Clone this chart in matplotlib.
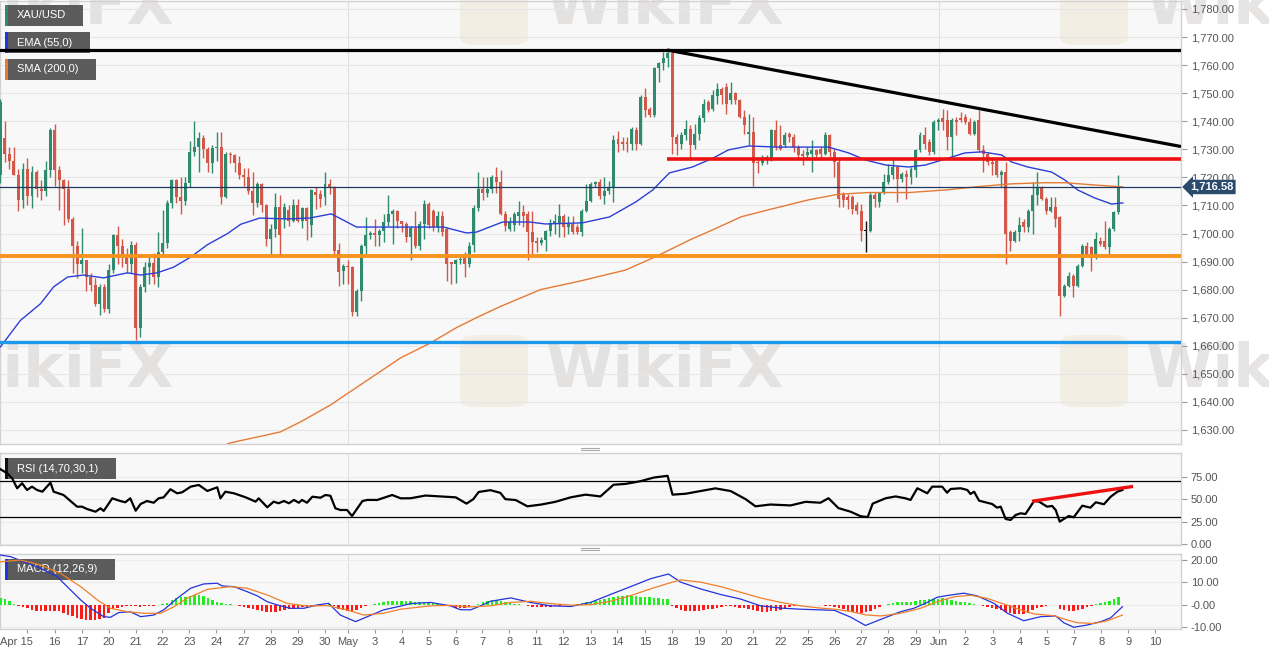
import numpy as np
import matplotlib.pyplot as plt
from matplotlib.patches import Rectangle, FancyBboxPatch
from matplotlib.lines import Line2D
from matplotlib.transforms import ScaledTranslation
from matplotlib.ticker import FuncFormatter

plt.rcParams['font.family'] = ['Liberation Sans', 'DejaVu Sans']

# ---------------- XAU/USD 4h candles ----------------
opens = [1721, 1734, 1728.5, 1726, 1721, 1712, 1723, 1713.5, 1722, 1716,
         1715, 1722.5, 1737, 1722.5, 1719, 1716, 1705, 1695.5, 1689, 1690.5,
         1684.5, 1681.5, 1675, 1681, 1673, 1687, 1699.5, 1695.5, 1692, 1689,
         1696, 1666.5, 1681, 1688, 1689.5, 1684.5, 1693.5, 1696.5, 1711, 1719,
         1713, 1711.5, 1718, 1729, 1731, 1734, 1730, 1725, 1730.5, 1731,
         1713, 1728.5, 1728, 1725, 1721, 1720, 1715, 1711, 1717.7, 1710,
         1698, 1701.7, 1709.4, 1705, 1708.5, 1704.6, 1710, 1704.6, 1709, 1702.9,
         1714.8, 1714, 1713, 1717.7, 1716.5, 1694, 1686.8, 1688.6, 1688, 1671.9,
         1679.6, 1695.7, 1699.3, 1700.1, 1699.3, 1700.8, 1704, 1707, 1708.2, 1704.4,
         1703.5, 1698.9, 1702, 1695.7, 1703.5, 1710.6, 1708, 1702.3, 1706.4, 1701.7,
         1689.8, 1689.2, 1690.4, 1692.2, 1689.2, 1696, 1709, 1716, 1714.3, 1716,
         1720.2, 1718.4, 1707, 1701.7, 1702.9, 1706.4, 1707.6, 1707, 1700.5, 1697.5,
         1696.6, 1697.8, 1700.8, 1703.8, 1703.8, 1706.4, 1702.3, 1703.5, 1702.3, 1700.5,
         1708.2, 1711.7, 1717.7, 1718.2, 1713.5, 1715.3, 1716.5, 1733.8, 1732.6, 1732.6,
         1732, 1736.8, 1732, 1748.7, 1744.5, 1742.2, 1758.8, 1760.6, 1762.4, 1764.2,
         1734.4, 1732, 1735, 1737.4, 1731.4, 1735.6, 1741, 1747, 1744.5, 1748.9,
         1751.4, 1752.2, 1747.5, 1750, 1747.5, 1741.5, 1735.6, 1736.2, 1725.6, 1725,
         1727, 1727, 1736.8, 1731.4, 1731.4, 1735.6, 1734.4, 1730.8, 1728.5, 1727.9,
         1728.5, 1729.6, 1730.2, 1728.5, 1735, 1729, 1725.5, 1714.2, 1713, 1713,
         1710, 1708.2, 1701, 1701, 1713.6, 1711.2, 1714.8, 1718.3, 1720.7, 1723.7,
         1719.5, 1721.3, 1720.2, 1722.5, 1729.6, 1735, 1732.6, 1729, 1739.8, 1741,
         1740.4, 1734.4, 1740.6, 1741, 1741.5, 1739.8, 1735.6, 1740.4, 1729.6, 1728.5,
         1725.5, 1726, 1720.7, 1721.9, 1700.5, 1697.5, 1700.5, 1704, 1702.3, 1708.2,
         1713.6, 1716.5, 1712.4, 1708.2, 1709.4, 1705.8, 1677.9, 1681.4, 1685, 1681.4,
         1688.6, 1695.7, 1695.1, 1691.6, 1697.5, 1697.5, 1695.1, 1701.7, 1707.6]
highs = [1748, 1740, 1731, 1731, 1723, 1725, 1727, 1724, 1722.5, 1719,
         1726, 1737.5, 1739, 1724, 1719.5, 1719, 1706, 1697.5, 1702, 1690.5,
         1686, 1684, 1682, 1682, 1689, 1700, 1702.5, 1698, 1695, 1697.5,
         1697, 1682, 1690, 1692, 1693, 1700.5, 1708.5, 1712, 1719.5, 1719.5,
         1720, 1720, 1733, 1740, 1736, 1735, 1731, 1731.5, 1736, 1736,
         1729, 1729, 1728.5, 1727.5, 1723.5, 1723.5, 1722, 1718.5, 1718, 1710.5,
         1703.5, 1714.6, 1713.6, 1711, 1710, 1712.4, 1712.4, 1709.5, 1709.5, 1716,
         1716.5, 1715.4, 1721.9, 1719.5, 1716.8, 1696.5, 1689.2, 1690.4, 1688.6, 1680.2,
         1696.3, 1705.8, 1701, 1705.2, 1701.7, 1707, 1713.6, 1708.8, 1708.5, 1704.6,
         1704, 1702.8, 1708.2, 1704.6, 1712, 1711.2, 1708.8, 1708.2, 1708.2, 1702.3,
         1689.8, 1691, 1691.5, 1693.3, 1697, 1710, 1722, 1720.3, 1720.3, 1720.8,
         1723.8, 1722.6, 1708, 1705.8, 1707.6, 1711.7, 1710, 1708.2, 1708.2, 1698.7,
         1698.7, 1701.4, 1705, 1707, 1710.6, 1707, 1706.4, 1706.4, 1703.5, 1708.8,
         1717.7, 1718.2, 1718.8, 1719.4, 1720, 1718.8, 1735, 1736.7, 1734.4, 1734.4,
         1738, 1738, 1749.3, 1751.7, 1745, 1759.4, 1761.2, 1764.7, 1765.4, 1765.4,
         1735.6, 1736.2, 1740.4, 1738.6, 1739.2, 1742.2, 1748.1, 1747.5, 1751, 1753.5,
         1752.2, 1753.5, 1754, 1750.5, 1748.1, 1744, 1742.7, 1741.5, 1727.3, 1727.9,
         1727.9, 1737.4, 1740.4, 1738.6, 1736.2, 1736.2, 1735.6, 1731.4, 1729.6, 1730.8,
         1733.2, 1730.2, 1730.8, 1736.2, 1735.6, 1730.2, 1726.7, 1714.8, 1714.2, 1713.6,
         1711.2, 1710.6, 1704.6, 1714.8, 1714.8, 1714.8, 1721.3, 1724.9, 1727.3, 1724.3,
         1721.9, 1722.5, 1723.7, 1730.2, 1736.2, 1738, 1733.8, 1740.4, 1741, 1744.5,
         1743.9, 1741, 1741.5, 1743.3, 1742.7, 1741, 1740.4, 1743.9, 1731.4, 1729,
         1727.3, 1726.1, 1722.5, 1725.5, 1701.1, 1701.1, 1705.8, 1705.2, 1708.8, 1718.3,
         1721.9, 1717.1, 1713, 1713, 1713, 1706.4, 1682, 1686.2, 1685.6, 1689.2,
         1696.3, 1696.9, 1695.7, 1700.5, 1698.7, 1704.6, 1702.3, 1708.2, 1720.7]
lows = [1718, 1725.5, 1723, 1721, 1708, 1709, 1710, 1709, 1713, 1712,
        1713.5, 1720, 1717, 1708.5, 1703, 1704, 1686, 1684, 1686, 1679.5,
        1679.5, 1674, 1671, 1672, 1671.5, 1686, 1689, 1688, 1686, 1686,
        1662, 1663, 1679, 1682, 1682, 1681, 1692.5, 1695, 1709, 1711,
        1707, 1710, 1716.5, 1727.5, 1722, 1727, 1722, 1721.5, 1726, 1710.5,
        1712.5, 1725, 1722, 1719.5, 1717, 1714, 1706.5, 1709.5, 1707.5, 1695.7,
        1692, 1698.7, 1692, 1702, 1702.7, 1704, 1704, 1702, 1697.7, 1698.7,
        1708.8, 1709.4, 1710, 1714.2, 1692.7, 1681.4, 1682, 1682, 1670.7, 1670.7,
        1676, 1692.7, 1698, 1695.7, 1695.7, 1696.9, 1702.8, 1696.3, 1702, 1700.5,
        1696.9, 1690.4, 1695, 1694, 1698, 1702, 1701, 1700.5, 1699, 1683.2,
        1682, 1682.5, 1689.2, 1684.4, 1688, 1693.4, 1708.2, 1712, 1713, 1714.3,
        1714.3, 1706.5, 1701, 1701, 1701, 1702.9, 1702.3, 1690.4, 1692.7, 1693.3,
        1696, 1693.9, 1699, 1699.8, 1698.7, 1698.7, 1700, 1700, 1699.9, 1699,
        1707.6, 1711.2, 1716.5, 1712.4, 1710.6, 1714, 1711.2, 1729, 1729.7, 1729,
        1729.7, 1729.7, 1731.4, 1741.6, 1741.6, 1741.6, 1754, 1758.4, 1759.4, 1728.5,
        1728, 1730, 1733.2, 1726.7, 1730.2, 1733.2, 1739.8, 1743.4, 1743.5, 1746.3,
        1746.3, 1742.7, 1746.3, 1746.3, 1741, 1735.6, 1731.4, 1717.1, 1721.4, 1724.4,
        1724.9, 1726, 1729.6, 1729.6, 1730.8, 1732.6, 1729, 1726.7, 1724.4, 1726.7,
        1721.9, 1726.7, 1726.1, 1727.9, 1727.3, 1720.2, 1709.4, 1709.4, 1708.8, 1707,
        1707, 1697.5, 1693.3, 1700.5, 1709.4, 1709.4, 1714.2, 1717.7, 1719.5, 1711.2,
        1718.3, 1712.4, 1717.7, 1720.2, 1729, 1730.2, 1727.9, 1728.5, 1736.8, 1737,
        1729.6, 1727.3, 1735, 1739.8, 1739.2, 1735, 1735, 1729, 1721.9, 1724.3,
        1720.7, 1720.2, 1716.5, 1689.2, 1693.9, 1696.9, 1697.5, 1700.5, 1700.5, 1699.9,
        1710, 1711.8, 1707, 1707.6, 1702.3, 1670.7, 1677.3, 1680.8, 1677.3, 1680.8,
        1688, 1692.2, 1686.8, 1691, 1695.7, 1694.5, 1692.7, 1701, 1707]
closes = [1747, 1728.5, 1726, 1721, 1712, 1723, 1713.5, 1722, 1716, 1715,
          1722.5, 1737, 1722.5, 1719, 1716, 1705, 1695.5, 1689, 1690.5, 1684.5,
          1681.5, 1675, 1681, 1673, 1687, 1699.5, 1695.5, 1691.5, 1689, 1696,
          1666.5, 1681, 1688, 1689.5, 1684.5, 1693.5, 1696.5, 1711, 1719, 1713,
          1711.5, 1718, 1729, 1731, 1734, 1730, 1725, 1730.5, 1731, 1713,
          1728.5, 1728, 1725, 1721, 1720, 1715, 1711, 1717.7, 1710, 1698,
          1701.7, 1709.4, 1699.3, 1709.5, 1704.6, 1710, 1704.6, 1709, 1704.6, 1715.4,
          1713.6, 1712.4, 1717.7, 1716.5, 1693.9, 1686.2, 1688.6, 1688, 1671.9, 1679.6,
          1695.7, 1699.3, 1700.1, 1699.3, 1700.8, 1704, 1707, 1708.2, 1704.4, 1703.5,
          1698.7, 1702, 1695.7, 1703.5, 1710.6, 1702.9, 1702.3, 1706.4, 1700.5, 1689.2,
          1689.2, 1690.4, 1691, 1689.2, 1695.7, 1709, 1716, 1714.3, 1716, 1720.2,
          1718.4, 1707, 1702.5, 1704, 1707, 1707.6, 1706.4, 1700.5, 1697, 1696.5,
          1697.8, 1700.8, 1703.8, 1704.4, 1706.4, 1702.3, 1703.5, 1700.5, 1700.5, 1708.2,
          1711.7, 1717.7, 1718.2, 1713.5, 1715.3, 1716.5, 1733.2, 1732, 1732, 1732,
          1737.4, 1732, 1748.7, 1744, 1742.2, 1758.8, 1760.6, 1762.4, 1764.2, 1734.4,
          1732, 1735, 1737.4, 1731.4, 1735.6, 1741, 1746.3, 1744, 1749.3, 1751.4,
          1749.3, 1746.3, 1750, 1747.5, 1741.5, 1738.6, 1736.2, 1725, 1725, 1727,
          1727.3, 1736.8, 1730.8, 1730.2, 1735, 1734.4, 1730.8, 1727.9, 1727.5, 1729,
          1729.6, 1727.9, 1728.5, 1735, 1729, 1725.5, 1712.4, 1711.8, 1711.8, 1708.8,
          1708.2, 1701, 1701, 1713.6, 1712.4, 1714.8, 1718.3, 1720.7, 1723.7, 1719.5,
          1721.3, 1720.2, 1723.1, 1729.6, 1735, 1732, 1729, 1739.8, 1740.4, 1739.8,
          1734.4, 1740.4, 1739.8, 1740.4, 1739.8, 1735.6, 1739.8, 1729.6, 1728.5, 1725.5,
          1724.9, 1720.7, 1721.9, 1699.9, 1697.5, 1700.5, 1702.9, 1702.3, 1708.2, 1713.6,
          1716.5, 1712.4, 1708.2, 1709.4, 1705.2, 1677.9, 1681.4, 1685, 1681.4, 1688.6,
          1695.7, 1692.2, 1691.6, 1698.1, 1696.3, 1695.1, 1701.7, 1707.6, 1716.58]

# moving averages (bar number, value)
ema_bar = [0, 4.4, 8.9, 11.8, 14.9, 18.4, 22.9, 28.2, 31.1, 34.8, 38.4, 42.2, 45.9, 50.4, 53.3, 57.5,
           63.5, 68.6, 73.4, 79.0, 85.6, 93.0, 98.3, 103.4, 105.6, 111.4, 117.4, 120.9, 129.1, 135.1,
           140.9, 144.7, 148.4, 153.5, 158.0, 161.5, 166.0, 172.0, 177.7, 183.7, 188.2, 191.9, 196.4,
           201.5, 205.2, 209.5, 213.9, 217.7, 222.1, 224.3, 227.9, 233.2, 236.1, 239.0, 242.7, 246.5, 249.0]
ema_val = [1659.6, 1669, 1675, 1681, 1684.5, 1685.2, 1684.2, 1686, 1685.2, 1686, 1688, 1691.6, 1696, 1700,
           1703.3, 1705.5, 1705.2, 1705.5, 1707, 1702.3, 1702.3, 1702.3, 1702.3, 1700.2, 1700.5, 1704.1,
           1704.1, 1703.4, 1703.8, 1705.9, 1711.2, 1715.5, 1721.6, 1723.7, 1726.8, 1729.8, 1731.2, 1730.8,
           1730.8, 1730.8, 1728.7, 1726.2, 1724.4, 1723.7, 1724.4, 1726.5, 1728.7, 1729.1, 1728, 1725.5,
           1723.7, 1721.9, 1719.1, 1715.5, 1712.7, 1710.5, 1710.9]
sma_bar = [44.4, 51.0, 62.1, 66.6, 73.2, 82.1, 88.8, 95.4, 101.2, 105.6, 110.9, 119.8, 128.7, 138.7, 145.3,
           152.9, 158.0, 164.4, 172.0, 179.3, 185.9, 192.6, 201.5, 209.5, 216.8, 224.3, 231.6, 236.1, 242.7, 249.0]
sma_val = [1621, 1625.4, 1629.3, 1632.9, 1638.9, 1648.5, 1655.7, 1661, 1666.5, 1670, 1674, 1680, 1683.1,
           1687, 1691.7, 1697.7, 1701.3, 1706, 1709.1, 1712, 1714, 1714.6, 1714.6, 1715.5, 1716.7, 1717.7,
           1718.1, 1718.1, 1717.3, 1716.6]

# drawn levels
top_level = 1765.4
trend_bar = [147.9, 261.9]
trend_val = [1765.4, 1731.0]
red_bar = [147.9, 261.9]
red_level = 1726.6
orange_level = 1692.1
blue_level = 1661.3

# RSI (14)
rsi_bar = [0, 1.5, 2.6, 3.7, 4.8, 5.9, 7.0, 8.1, 9.3, 11.1, 11.8, 14.0, 17.0, 18.1, 19.2, 21.1, 22.2, 22.9,
           24.8, 26.6, 27.7, 28.8, 30.0, 31.1, 32.5, 34.0, 35.1, 36.2, 37.7, 39.2, 40.3, 42.2, 44.0, 45.9,
           48.1, 48.8, 49.9, 51.8, 54.4, 56.6, 57.3, 59.2, 60.6, 61.7, 62.9, 64.0, 65.1, 66.2, 66.9, 68.0,
           69.2, 71.0, 72.1, 73.2, 74.3, 75.4, 76.9, 78.0, 80.3, 81.4, 83.6, 86.9, 88.8,
           91.0, 94.3, 97.6, 101.0, 103.4, 104.9, 106.1, 108.7, 110.9, 112.0, 114.3, 116.9, 120.0, 123.1,
           126.5, 129.8, 133.1, 136.0, 138.7, 142.0, 144.9, 148.0, 149.1, 152.0, 155.3, 158.6, 162.0, 165.3,
           167.5, 170.8, 175.3, 178.6, 181.9, 183.7, 185.9, 188.6, 190.8, 192.4, 193.5, 196.4, 198.6,
           199.7, 200.8, 201.9, 203.4, 204.5, 205.6, 206.7, 208.9, 210.0, 210.8, 213.0, 214.5, 215.2, 216.0,
           217.1, 218.5, 220.0, 221.1, 221.9, 223.0, 224.1, 225.2, 226.3, 227.4, 229.3, 230.4, 232.2, 233.3,
           234.1, 235.0, 235.9, 237.0, 238.1, 240.0, 241.8, 243.0, 244.8, 246.3, 247.8, 248.9]
rsi_val = [83.3, 78.8, 73.2, 62.1, 67.7, 60.2, 63.9, 60.2, 58.3, 68.3, 58.3, 54.6, 41.6, 41.6, 39.0, 36.0,
           39.8, 36.8, 50.9, 47.9, 46.5, 50.9, 37.1, 44.6, 47.9, 46.0, 50.9, 52.0, 61.0, 56.5, 57.6, 63.9,
           65.8, 59.1, 63.2, 50.9, 58.3, 56.5, 52.0, 47.2, 50.9, 40.9, 47.2, 45.4, 47.9, 45.4, 49.1, 46.0,
           49.1, 46.0, 52.7, 51.6, 54.6, 53.8, 39.8, 37.9, 37.9, 31.2, 47.9, 49.1, 49.1, 54.6, 50.9,
           51, 54, 53, 52, 45, 50, 58, 60, 57, 50, 49, 42, 44, 47, 52, 55, 53, 66, 67, 70, 74, 76, 55, 56,
           59, 62, 59, 50, 42, 44, 43, 47, 46, 51, 40, 36, 31, 30, 45, 51, 53,
           52, 50.9, 49.1, 62.1, 59.4, 56.5, 63.9, 63.9, 57.2, 61.3, 62.1, 60.2, 55.7, 58.3, 48.3, 46.5,
           44.6, 40.5, 41.6, 27.9, 26.8, 32.3, 34.2, 33.4, 47.9, 47.2, 41.6, 42.4, 37.9, 24.9, 27.9, 31.2,
           29.8, 42.7, 40.5, 46.5, 44.3, 52.7, 58.3, 60.2]
rsi_trend_bar = [229.2, 250.9]
rsi_trend_val = [47.9, 63.9]

# MACD (12,26,9)
macd_bar = [0, 2.2, 5.2, 8.9, 12.6, 14.8, 17.8, 20.0, 22.9, 24.4, 26.2, 28.8, 31.1, 34.0, 36.2, 39.2, 42.2,
            45.1, 48.1, 49.2, 51.8, 54.7, 57.0, 59.2, 61.4, 64.3, 67.3, 70.3, 72.8, 75.4, 78.8, 81.4, 85.0, 88.8,
            91.0, 95.4, 99.8, 102.0, 104.3, 106.5, 108.7, 113.2, 117.6, 122.0, 126.5, 130.9, 135.3, 139.8,
            144.2, 148.2, 150.9, 155.3, 159.8, 164.2, 168.6, 173.1, 177.5, 181.9, 185.0, 188.6, 191.9, 195.3,
            199.7, 202.6, 205.2, 207.8, 210.8, 213.7, 216.7, 220.4, 223.4, 227.0, 230.8, 234.1, 235.9, 238.1,
            241.1, 244.1, 246.3, 248.9]
macd_val = [22, 21.3, 19, 16.1, 12.4, 8, 2.1, -1.6, -5.3, -5.6, -3.5, -3.1, -5.3, -4.6, -2.3, 2.8, 7.3, 9.2,
            9.5, 8.3, 8, 5.8, 3.9, 1.3, -0.1, -1.6, -1.6, -0.1, 0.6, -4.6, -7.5, -5.3, -2.3, -0.6,
            0.5, 1.0, -0.5, -2.2, -2.3, -0.5, 1.5, 3.0, 1.0, -0.5, -0.8, 1.0, 4.5, 8.0, 11.5, 13.6, 10.0, 7.0,
            4.5, 2.5, -0.5, -1.5, -2.0, -2.3, -2.5, -5.5, -9.2, -6.5,
            -3.1, -1.6, 0.6, 3.3, 4.3, 5.1, 3.9, 0.6, -3.8, -7.1, -5.3, -5.0, -8.0, -10.0, -9.0, -7.5, -5.8, -0.9]
signal_bar = [0, 4.4, 8.9, 13.3, 17.8, 21.5, 24.4, 28.1, 31.8, 35.5, 38.5, 41.4, 45.9, 51.0, 54.7, 59.2,
              63.6, 68.1, 72.5, 76.9, 80.6, 85.0, 88.8,
              91.0, 95.4, 99.8, 104.3, 108.7, 113.2, 117.6, 122.0, 126.5, 130.9, 135.3, 139.8, 144.2, 148.2,
              150.9, 155.3, 159.8, 164.2, 168.6, 173.1, 177.5, 181.9, 185.0, 188.6, 191.9, 195.3,
              199.7, 204.1, 207.8, 211.5, 215.2, 218.9, 222.6, 226.3, 229.3, 233.7, 236.7, 238.9, 242.6, 245.6, 248.9]
signal_val = [19, 19.8, 17.6, 13.9, 8, 2.1, -1.6, -3.1, -3.8, -3.8, -0.9, 2.8, 6.8, 8, 7.3, 4.3, 0.6, -0.6,
              -0.4, -2.3, -4.6, -3.8, -2,
              -1.5, -0.5, -0.3, -1.0, -0.5, 1.0, 1.5, 0.5, -0.2, 0, 1.5, 4.0, 7.0, 9.5, 11.0, 10.0, 8.0, 5.5,
              3.0, 1.0, -0.5, -1.5, -2.0, -3.0, -4.5, -5.0,
              -3.8, -1.6, 1.3, 3.5, 4.2, 2.8, 0.3, -2.3, -4.1, -4.9, -6.8, -8, -8.3, -7.1, -4.6]
hist_apr = [2.8, 2.5, 1.5, 0.3, -0.5, -1.0, -1.5, -2.2, -2.7, -3.0,
            -3.0, -2.6, -2.6, -3.0, -3.6, -4.5, -5.2, -5.8, -6.3, -6.6,
            -6.8, -6.8, -6.5, -6.0, -3.6, -2.0, -1.5, -1.0, -0.7, -0.7,
            -0.8, -1.0, -0.8, -0.6, -0.4, -0.2, 0.2, 0.8, 2.2, 3.0,
            3.4, 3.6, 3.9, 4.2, 4.4, 3.8, 3.0, 2.2, 1.3, 0.6,
            0.3, 0.1, -0.3, -0.8, -1.1, -1.4, -1.8, -2.2, -2.6, -3.1,
            -3.4, -3.4, -2.8, -2.4, -2.0, -1.7, -1.5, -1.2, -1.0, -0.8,
            -0.6, -0.4, -0.2, 0.2, -0.8, -1.8, -2.3, -2.6, -3.2, -2.4,
            -1.4, -0.7, -0.2, 0.3, 0.6, 1.1, 1.5, 1.8, 1.8]
hist_may = [1.8, 1.8, 1.6, 1.4, 1.2, 1.0, 0.8, 0.6, 0.3, 0.0,
            -0.2, -0.8, -1.3, -1.6, -1.5, -1.0,
            -0.3, 0.3, 1.0, 1.6, 2.0, 2.0, 1.8, 1.4, 1.0, 0.5, 0.1,
            -0.3, -0.6, -0.9, -1.1, -1.2, -1.1, -0.9, -0.7, -0.5, -0.3, -0.2, -0.1,
            0.2, 0.6, 1.0, 1.4, 1.8, 2.2, 2.6, 3.0, 3.4, 3.8, 4.0, 4.2, 4.0, 3.8, 3.6, 3.4, 3.2, 3.0, 2.8, 2.6, 2.4,
            -0.8, -1.5, -2.2, -2.8, -3.0, -3.0, -2.8, -2.5, -2.1, -1.7, -1.3, -1.0,
            -0.8, -0.8, -1.0, -1.3, -1.6, -2.0,
            -2.5, -3.0, -3.2, -3.2, -3.0, -2.6, -2.2, -1.7, -1.2, -0.8,
            -0.5, -0.3, -0.2, -0.1, 0.0, -0.2, -0.4, -0.6,
            -0.9, -1.4, -2.0, -2.6, -3.2, -3.6, -3.8, -3.4,
            -2.6, -1.8, -1.0, -0.3, 0.3, 0.8, 1.1]
hist_jun = [1.3, 1.3, 1.3, 1.5, 2.0, 2.3, 2.4, 2.5, 2.7, 2.8,
            2.4, 2.0, 1.7, 1.3, 1.0, 0.7, 0.3, -0.3, -0.7, -1.0,
            -1.5, -2.0, -2.5, -3.3, -3.8, -4.0, -4.2, -4.0, -3.5, -2.5,
            -1.6, -0.9, -0.5, -0.2, -0.1, -1.8, -2.5, -2.8, -2.6, -2.2,
            -1.7, -1.0, -0.4, 0.3, 0.6, 1.0, 1.5, 2.4, 3.5]

# x axis: first bar of each session
day_bar = [6.0, 12.0, 18.1, 24.0, 30.0, 35.9, 41.9, 47.9, 54.0, 60.0, 65.9, 72.0, 77.1, 83.0, 89.0, 95.0,
           101.0, 106.9, 112.9, 118.9, 124.9, 130.9, 136.8, 143.1, 149.0, 155.0, 161.0, 166.9, 173.0, 179.1,
           185.1, 191.0, 197.0, 203.0, 208.2, 214.0, 220.1, 226.2, 232.1, 238.1, 244.2, 250.2, 256.2]
day_label = ['Apr 15', '16', '17', '20', '21', '22', '23', '24', '27', '28', '29', '30', 'May', '3', '4', '5',
             '6', '7', '8', '11', '12', '13', '14', '15', '18', '19', '20', '21', '22', '25', '26', '27', '28',
             '29', 'Jun', '2', '3', '4', '5', '7', '8', '9', '10']
month_bar = [77.1, 208.2]

W, H = 1269, 655
GREEN, RED = '#2f8a6e', '#d4584a'
TICK_TXT = '#555555'

fig = plt.figure(figsize=(W / 100, H / 100), dpi=100)
fig.patch.set_facecolor('white')


def panel(top, bottom):
    a = fig.add_axes([0, 1 - bottom / H, 1181 / W, (bottom - top) / H])
    a.set_facecolor('#f8f8f8')
    for s in a.spines.values():
        s.set_color('#d2d2d2')
        s.set_linewidth(1)
    a.yaxis.tick_right()
    a.tick_params(axis='y', direction='out', length=4, width=0.8, color='#9a9a9a',
                  labelsize=8, labelcolor=TICK_TXT, pad=3)
    a.set_xlim(-0.1, 261.9)
    for m in month_bar:
        a.axvline(m, color='#e0e0e0', lw=0.8, zorder=0.8)
    return a


def tag(a, left, top, width, text, stripe):
    '''dark label box with coloured stripe, in figure pixels'''
    a.add_patch(Rectangle((left / W, 1 - (top + 21) / H), width / W, 21 / H, transform=fig.transFigure,
                          fc='#5b5b5b', ec='none', zorder=2, clip_on=False))
    a.add_patch(Rectangle((left / W, 1 - (top + 21) / H), 2.5 / W, 21 / H, transform=fig.transFigure,
                          fc=stripe, ec='none', zorder=2.1, clip_on=False))
    a.text((left + 12) / W, 1 - (top + 10.5) / H, text, transform=fig.transFigure, color='white',
           fontsize=8, va='center', ha='left', zorder=2.2)


def watermark(a, x, y, logo=True):
    if logo:
        a.add_patch(FancyBboxPatch(((x - 85) / W, 1 - (y + 37) / H), 68 / W, 72 / H,
                                   boxstyle='round,pad=0,rounding_size=0.012', transform=fig.transFigure,
                                   fc='#efe3cc', ec='none', alpha=0.45, zorder=1, clip_on=False))
    a.text(x / W, 1 - y / H, 'WikiFX', transform=fig.transFigure, fontsize=44, fontweight='bold',
           color='#d8d2d2', alpha=0.6, va='center', ha='left', zorder=1, family='DejaVu Sans')


ax = panel(1, 444)
axR = panel(453, 545)
axM = panel(554, 629)

# ---- price panel ----
ax.set_ylim(1625.0, 1782.85)
ax.set_yticks(np.arange(1630, 1781, 10))
ax.yaxis.set_major_formatter(FuncFormatter(lambda v, p: f'{v:,.2f}'))
ax.grid(axis='y', color='#e6e6e6', lw=0.8)
ax.tick_params(axis='x', bottom=False, labelbottom=False)

for x, y in [(-65, 8), (545, 8), (1145, 8), (-65, 370), (545, 370), (1145, 370)]:
    watermark(ax, x, y, logo=x > 0)

bars = np.arange(len(closes))
o, hi, lo, c = (np.array(v, dtype=float) for v in (opens, highs, lows, closes))
cols = np.where(c > o, GREEN, np.where(c < o, RED, '#111111'))
ax.vlines(bars, lo, hi, colors=cols, lw=1, zorder=3)
ax.bar(bars, np.maximum(np.abs(c - o), 0.3), bottom=np.minimum(o, c), width=0.66,
       color=cols, lw=0, zorder=3)

ax.plot(ema_bar, ema_val, color='#2b3fd6', lw=1.0, zorder=4)
ax.plot(sma_bar, sma_val, color='#e57b35', lw=1.0, zorder=4)
ax.axhline(closes[-1], color='#1f3a60', lw=0.9, zorder=4)
ax.axhline(top_level, color='black', lw=2.3, zorder=5)
ax.plot(trend_bar, trend_val, color='black', lw=2.3, zorder=5, solid_capstyle='butt')
ax.plot(red_bar, [red_level, red_level], color='#ee1111', lw=2.6, zorder=5, solid_capstyle='butt')
ax.axhline(orange_level, color='#f7931e', lw=2.8, zorder=5)
ax.axhline(blue_level, color='#1e98e8', lw=2.4, zorder=5)

ax.text(1.0 + 9 / 1181, closes[-1], f'{closes[-1]:,.2f}', transform=ax.get_yaxis_transform(),
        ha='left', va='center', fontsize=8, fontweight='bold', color='white', zorder=10, clip_on=False,
        bbox=dict(boxstyle='larrow,pad=0.2', fc='#2b4a6e', ec='none'))

tag(ax, 5, 5, 78, 'XAU/USD', '#2f8a6e')
tag(ax, 5, 32, 85, 'EMA (55,0)', '#1f35e0')
tag(ax, 5, 59, 91, 'SMA (200,0)', '#e57b35')

# ---- RSI panel ----
axR.set_ylim(-1.1, 101.4)
axR.set_yticks([0, 25, 50, 75])
axR.yaxis.set_major_formatter(FuncFormatter(lambda v, p: f'{v:.2f}'))
axR.grid(axis='y', color='#ececec', lw=0.8)
axR.tick_params(axis='x', bottom=False, labelbottom=False)
axR.axhline(70, color='black', lw=0.9, zorder=3)
axR.axhline(30, color='black', lw=0.9, zorder=3)
axR.plot(rsi_bar, rsi_val, color='black', lw=1.6, zorder=4)
axR.plot(rsi_trend_bar, rsi_trend_val, color='#ee1111', lw=2.4, zorder=5)
tag(axR, 5, 458, 111, 'RSI (14,70,30,1)', '#111111')

# ---- MACD panel ----
axM.set_ylim(-10.77, 22.46)
axM.set_yticks([-10, 0, 10, 20])
axM.set_yticklabels(['-10.00', '-0.00', '10.00', '20.00'])
axM.grid(axis='y', color='#ececec', lw=0.8)
hist = np.array(hist_apr + hist_may + hist_jun)
axM.bar(np.arange(len(hist)), hist, width=0.55, color=np.where(hist >= 0, '#22ee22', '#ff1a1a'),
        lw=0, zorder=3)
axM.plot(macd_bar, macd_val, color='#2233dd', lw=0.9, zorder=4)
axM.plot(signal_bar, signal_val, color='#f07f2a', lw=0.9, zorder=4)
tag(axM, 5, 559, 110, 'MACD (12,26,9)', '#1f35e0')

axM.set_xticks(day_bar)
axM.set_xticklabels(day_label)
axM.tick_params(axis='x', length=3, width=0.8, color='#9a9a9a', labelsize=8, labelcolor=TICK_TXT, pad=3)
first = axM.get_xticklabels()[0]
first.set_horizontalalignment('left')
first.set_transform(first.get_transform() + ScaledTranslation(-0.27, 0, fig.dpi_scale_trans))

# panel resize handles
for yy in (447.5, 450, 547.5, 550):
    fig.add_artist(Line2D([581 / W, 599 / W], [1 - yy / H] * 2, color='#a8a8a8', lw=0.8))

fig.savefig('out.png', dpi=100)
